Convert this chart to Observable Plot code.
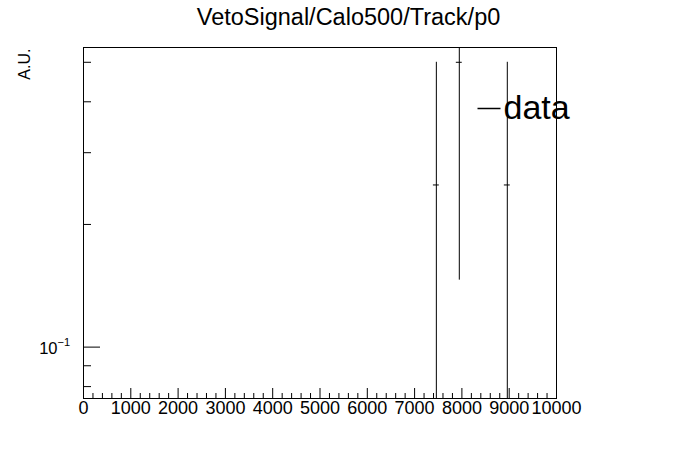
<!DOCTYPE html>
<html>
<head>
<meta charset="utf-8">
<script src="https://cdn.jsdelivr.net/npm/d3@7"></script>
<script src="https://cdn.jsdelivr.net/npm/@observablehq/plot@0.6"></script>
<style>
  html, body { margin: 0; padding: 0; background: #fff; }
  svg { display: block; }
</style>
</head>
<body>
<div id="chart"></div>
<script>
// ---- data ----
const title = "VetoSignal/Calo500/Track/p0";
const yLabel = "A.U.";
const legendLabel = "data";
const binCenters = [7460, 7945, 8960];
const binWidth = 125;
const values = [0.25, 0.5, 0.25];
const errors = [0.25, 0.354, 0.25];
const xMajorTicks = [0, 1000, 2000, 3000, 4000, 5000, 6000, 7000, 8000, 9000, 10000];
const xTickLabels = ["0", "1000", "2000", "3000", "4000", "5000", "6000", "7000", "8000", "9000", "10000"];
const xMinorTicks = [200,400,600,800,1200,1400,1600,1800,2200,2400,2600,2800,3200,3400,3600,3800,4200,4400,4600,4800,5200,5400,5600,5800,6200,6400,6600,6800,7200,7400,7600,7800,8200,8400,8600,8800,9200,9400,9600,9800];
const yMajorTicks = [0.1];
const yMinorTicks = [0.08, 0.09, 0.2, 0.3, 0.4, 0.5];
const xDomain = [0, 10000];
const yDomain = [0.0748, 0.5436];

const points = binCenters.map((c, i) => ({c, v: values[i], e: errors[i]}));

// ---- layout ----
const W = 696, H = 472;
const mL = 83, mR = 140, mT = 47, mB = 74;
const fw = W - mL - mR, fh = H - mT - mB;
const font = "'Liberation Sans', Arial, Helvetica, sans-serif";

const hline = (half) => ({draw(ctx) { ctx.moveTo(-half, 0); ctx.lineTo(half, 0); }});

const chart = Plot.plot({
  width: W, height: H,
  marginLeft: mL, marginRight: mR, marginTop: mT, marginBottom: mB,
  style: {fontFamily: font, background: "#fff", color: "#000"},
  x: {type: "linear", domain: xDomain, axis: null},
  y: {type: "log", domain: yDomain, axis: null},
  marks: [
    Plot.frame({stroke: "#000"}),
    // x ticks (inward)
    Plot.ruleX(xMajorTicks, {x: d => d, insetTop: fh - 10, stroke: "#000"}),
    Plot.ruleX(xMinorTicks, {x: d => d, insetTop: fh - 5, stroke: "#000"}),
    // y ticks (inward)
    Plot.ruleY(yMajorTicks, {y: d => d, insetRight: fw - 17, stroke: "#000"}),
    Plot.ruleY(yMinorTicks, {y: d => d, insetRight: fw - 8, stroke: "#000"}),
    // x tick labels
    Plot.text(xMajorTicks, {x: d => d, text: (d, i) => xTickLabels[i], frameAnchor: "bottom", lineAnchor: "top", dy: 3, fontSize: 18, fill: "#000"}),
    // y tick label 10^-1
    Plot.text(yMajorTicks, {y: d => d, text: () => "10", frameAnchor: "left", textAnchor: "end", lineAnchor: "middle", dx: -26, dy: 2, fontSize: 16.5, fill: "#000"}),
    Plot.text(yMajorTicks, {y: d => d, text: () => "\u22121", frameAnchor: "left", textAnchor: "start", lineAnchor: "middle", dx: -26, dy: -5, fontSize: 11, fill: "#000"}),
    // error bars
    Plot.ruleX(points, {x: "c", y1: d => Math.max(d.v - d.e, 1e-6), y2: d => d.v + d.e, stroke: "#000", clip: true}),
    Plot.ruleY(points, {y: "v", x1: d => d.c - binWidth / 2, x2: d => d.c + binWidth / 2, stroke: "#000", clip: true}),
    // title
    Plot.text([title], {text: d => d, frameAnchor: "top", lineAnchor: "middle", dx: (W / 2) - (mL + fw / 2), dy: 17 - mT, fontSize: 23.5, fill: "#000"}),
    // y label
    Plot.text([yLabel], {text: d => d, frameAnchor: "top-left", rotate: -90, textAnchor: "end", lineAnchor: "middle", dx: 24 - mL, dy: 48 - mT, fontSize: 16, fill: "#000"}),
    // legend
    Plot.dot([0], {frameAnchor: "top-left", dx: 488.5 - mL, dy: 108 - mT, symbol: hline(11.5), stroke: "#000", fill: "none", r: 5}),
    Plot.text([legendLabel], {text: d => d, frameAnchor: "top-left", textAnchor: "start", lineAnchor: "middle", dx: 503 - mL, dy: 108 - mT, fontSize: 34, fill: "#000"})
  ]
});
document.getElementById("chart").appendChild(chart);
</script>
</body>
</html>
